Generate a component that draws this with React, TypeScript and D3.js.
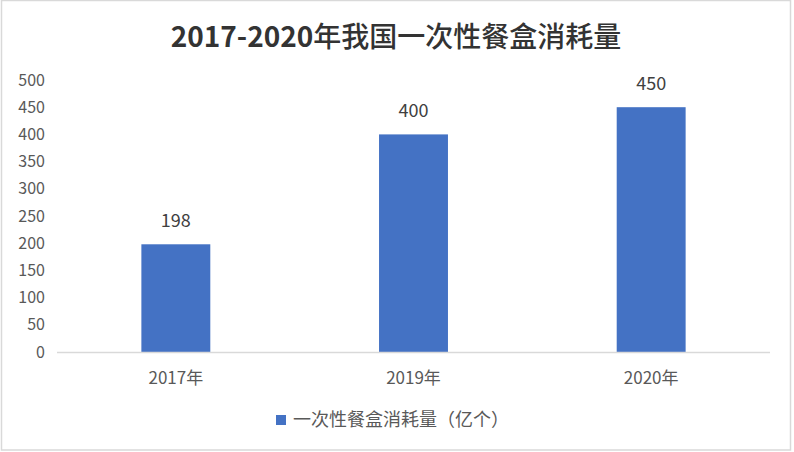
import React from "react";
import * as d3 from "d3";

const categories = ["2017年", "2019年", "2020年"];
const values = [198, 400, 450];
const yTicks = [0, 50, 100, 150, 200, 250, 300, 350, 400, 450, 500];
const titleYears = "2017-2020";
const titleRest = "年我国一次性餐盒消耗量";
const seriesName = "一次性餐盒消耗量（亿个）";

const W = 794;
const H = 452;
const FONT = "'Noto Sans CJK SC', 'Noto Sans', sans-serif";

export default function App() {
  const x = d3.scaleBand<string>().domain(categories).range([57, 770]).paddingInner(0.71).paddingOuter(0.355);
  const y = d3.scaleLinear().domain([0, 500]).range([352, 80]);
  return (
    <div style={{ position: "absolute", left: 0, top: 0 }}>
      <svg width={W} height={H} style={{ display: "block", background: "#fff" }}>
        <rect x={1.5} y={0.5} width={789} height={449.5} fill="#fff" stroke="#d9d9d9" strokeWidth={1.5} />
        <text x={396} y={47} textAnchor="middle" fontFamily={FONT} fontSize={28} fill="#333">
          <tspan fontWeight="bold">{titleYears}</tspan>
          <tspan fontWeight="500">{titleRest}</tspan>
        </text>
        {yTicks.map((t) => (
          <text key={t} x={45} y={y(t)} dy="0.35em" textAnchor="end" fontFamily={FONT} fontSize={16} fill="#595959">
            {t}
          </text>
        ))}
        {categories.map((c, i) => (
          <g key={c}>
            <rect x={x(c)} y={y(values[i])} width={x.bandwidth()} height={y(0) - y(values[i])} fill="#4472c4" />
            <text x={(x(c) as number) + x.bandwidth() / 2} y={y(values[i]) - 17} textAnchor="middle" fontFamily={FONT} fontSize={18} fill="#404040">
              {values[i]}
            </text>
            <text x={(x(c) as number) + x.bandwidth() / 2} y={378} dy="0.35em" textAnchor="middle" fontFamily={FONT} fontSize={17} fill="#595959">
              {c}
            </text>
          </g>
        ))}
        <line x1={57} x2={770} y1={y(0) + 0.5} y2={y(0) + 0.5} stroke="#d9d9d9" strokeWidth={1.5} />
        <rect x={276} y={415} width={10} height={10} fill="#4472c4" />
        <text x={293} y={420} dy="0.35em" fontFamily={FONT} fontSize={18} fill="#595959">
          {seriesName}
        </text>
      </svg>
    </div>
  );
}
